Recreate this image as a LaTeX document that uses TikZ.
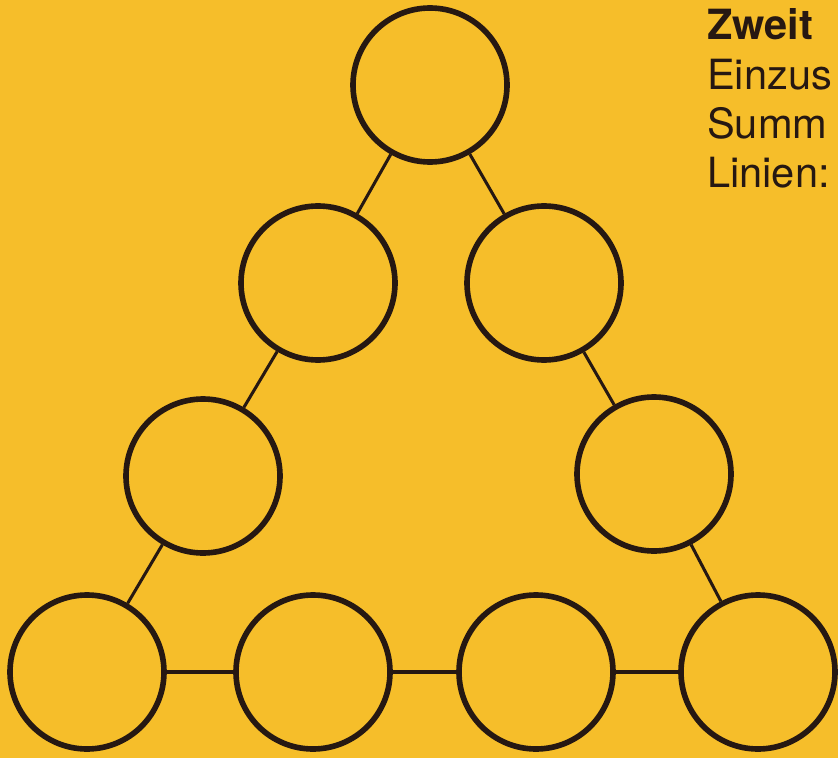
\documentclass[tikz,border=0pt]{standalone}
\usepackage{fontspec}
\setmainfont{TeX Gyre Heros}
\usepackage{tikz}

\definecolor{papier}{RGB}{246,190,42}
\definecolor{tinte}{RGB}{38,24,18}

\begin{document}
\begin{tikzpicture}[x=0.03cm, y=-0.03cm,
  kreis/.style={circle, draw=tinte, line width=4.8pt, minimum size=4.62cm, inner sep=0pt},
  linie/.style={draw=tinte, line width=2.6pt},
  zeile/.style={anchor=base west, inner sep=0pt, text=tinte, font=\fontsize{35.5}{41}\selectfont}]
\useasboundingbox (0,0) rectangle (838,758);
\fill[papier] (0,0) rectangle (838,758);
\clip (0,0) rectangle (838,758);
% Kreise
\node[kreis] (oben) at (430,85) {};
\node[kreis] (l1) at (318,283) {};
\node[kreis] (r1) at (544,283) {};
\node[kreis] (l2) at (203,476) {};
\node[kreis] (r2) at (654,474) {};
\node[kreis] (u1) at (87,672) {};
\node[kreis] (u2) at (313,672) {};
\node[kreis] (u3) at (536,672) {};
\node[kreis] (u4) at (758,672) {};
% Linien
\draw[linie] (oben) -- (l1);
\draw[linie] (l1) -- (l2);
\draw[linie] (l2) -- (u1);
\draw[linie] (oben) -- (r1);
\draw[linie] (r1) -- (r2);
\draw[linie] (r2) -- (u4);
\draw[linie] (u1) -- (u2);
\draw[linie] (u2) -- (u3);
\draw[linie] (u3) -- (u4);
% Text
\node[zeile] (t1) at (707,40) {\textbf{Zweit}};
\node[zeile] (t2) at (707,89) {Einzus};
\node[zeile] (t3) at (707,138) {Summ};
\node[zeile] (t4) at (707,187) {Linien:};
\end{tikzpicture}
\end{document}
